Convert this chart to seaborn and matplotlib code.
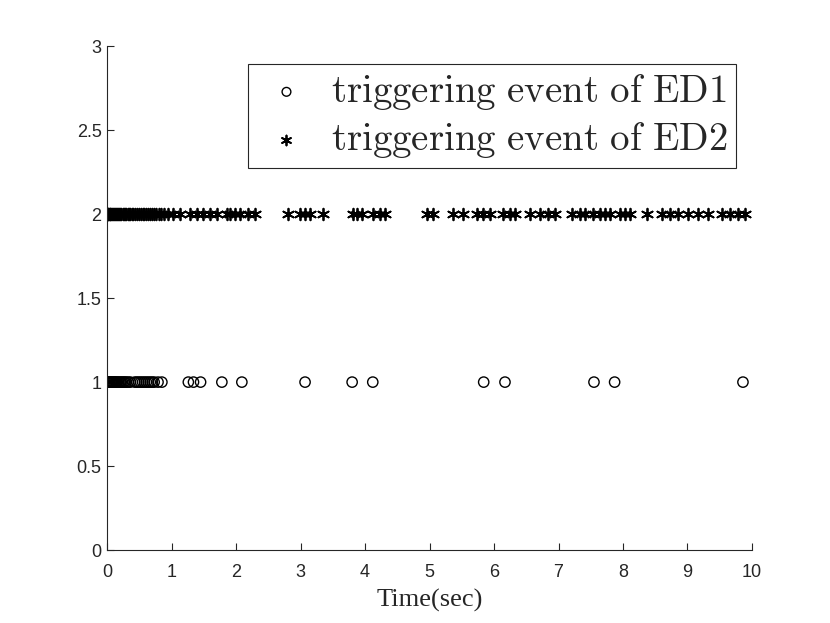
import numpy as np
import pandas as pd
import seaborn as sns
import matplotlib
matplotlib.use("Agg")
import matplotlib.pyplot as plt

# triggering instants (seconds)
ed1_times = [0.00, 0.01, 0.02, 0.03, 0.045, 0.06, 0.07, 0.085, 0.10, 0.115, 0.13,
             0.145, 0.16, 0.18, 0.20, 0.22, 0.24, 0.26, 0.28, 0.30, 0.33, 0.36,
             0.43, 0.46, 0.49, 0.52, 0.55, 0.58, 0.61, 0.64, 0.67, 0.70, 0.73,
             0.79, 0.85, 1.26, 1.34, 1.45, 1.78, 2.09, 3.07, 3.80, 4.12,
             5.84, 6.17, 7.55, 7.87, 9.86]
ed2_times = [0.00, 0.01, 0.02, 0.03, 0.04, 0.05, 0.06, 0.075, 0.09, 0.105, 0.12,
             0.135, 0.15, 0.165, 0.18, 0.20, 0.22, 0.24, 0.26, 0.28, 0.30, 0.32,
             0.34, 0.36, 0.38, 0.40, 0.43, 0.46, 0.49, 0.52, 0.55, 0.58, 0.61,
             0.64, 0.67, 0.70, 0.73, 0.76, 0.80, 0.84, 0.88,
             0.95, 1.02, 1.13, 1.29, 1.40, 1.49, 1.60, 1.71, 1.86, 1.91, 1.98,
             2.06, 2.19, 2.29, 2.81, 2.99, 3.07, 3.15, 3.35, 3.81, 3.88, 3.95,
             4.12, 4.23, 4.31, 4.96, 5.05, 5.36, 5.52, 5.74, 5.83, 5.94, 6.14,
             6.25, 6.33, 6.56, 6.71, 6.84, 6.95, 7.21, 7.33, 7.41, 7.53, 7.64,
             7.72, 7.80, 7.95, 8.03, 8.11, 8.37, 8.60, 8.73, 8.85, 9.01, 9.16,
             9.32, 9.53, 9.66, 9.78, 9.89]
ed1_level = 1
ed2_level = 2
labels = [r"$\mathrm{triggering\ event\ of\ ED1}$", r"$\mathrm{triggering\ event\ of\ ED2}$"]

df1 = pd.DataFrame({"t": ed1_times, "y": ed1_level})
df2 = pd.DataFrame({"t": ed2_times, "y": ed2_level})

sns.set_style("ticks", {"axes.spines.right": False, "axes.spines.top": False})
plt.rcParams["font.family"] = ["Liberation Sans", "DejaVu Sans"]
plt.rcParams["mathtext.fontset"] = "cm"

fig = plt.figure(figsize=(8.3, 6.23), dpi=100)
ax = fig.add_axes([0.129, 0.117, 0.777, 0.809])

sns.scatterplot(ax=ax, data=df1, x="t", y="y", marker="o", s=55,
                facecolors="none", edgecolor="black", linewidth=1.0, label=labels[0])
sns.scatterplot(ax=ax, data=df2, x="t", y="y", marker=(6, 2, 0), s=70,
                color="black", edgecolor="black", linewidth=1.3, label=labels[1])

ax.set_xlim(0, 10)
ax.set_ylim(0, 3)
ax.set_xticks(range(0, 11))
ax.set_yticks([0, 0.5, 1, 1.5, 2, 2.5, 3])
ax.set_yticklabels(["0", "0.5", "1", "1.5", "2", "2.5", "3"])
ax.tick_params(direction="in", length=5, width=0.8, labelsize=13, colors="#262626")
ax.tick_params(axis="x", pad=10)
ax.tick_params(axis="y", pad=4)
for sp in ["left", "bottom"]:
    ax.spines[sp].set_color("#262626")
    ax.spines[sp].set_linewidth(0.8)
ax.set_xlabel("Time(sec)", family=["Liberation Serif"], fontsize=19,
              color="#262626", labelpad=6)
ax.set_ylabel("")

leg = ax.legend(loc="upper right", bbox_to_anchor=(0.975, 0.964), fontsize=28,
                frameon=True, fancybox=False, framealpha=1, edgecolor="#262626",
                handletextpad=0.35, borderpad=0.2, labelspacing=0.2,
                handlelength=1.6, markerscale=0.85, borderaxespad=0)
leg.get_frame().set_linewidth(0.8)

fig.savefig("out.png", dpi=100)
